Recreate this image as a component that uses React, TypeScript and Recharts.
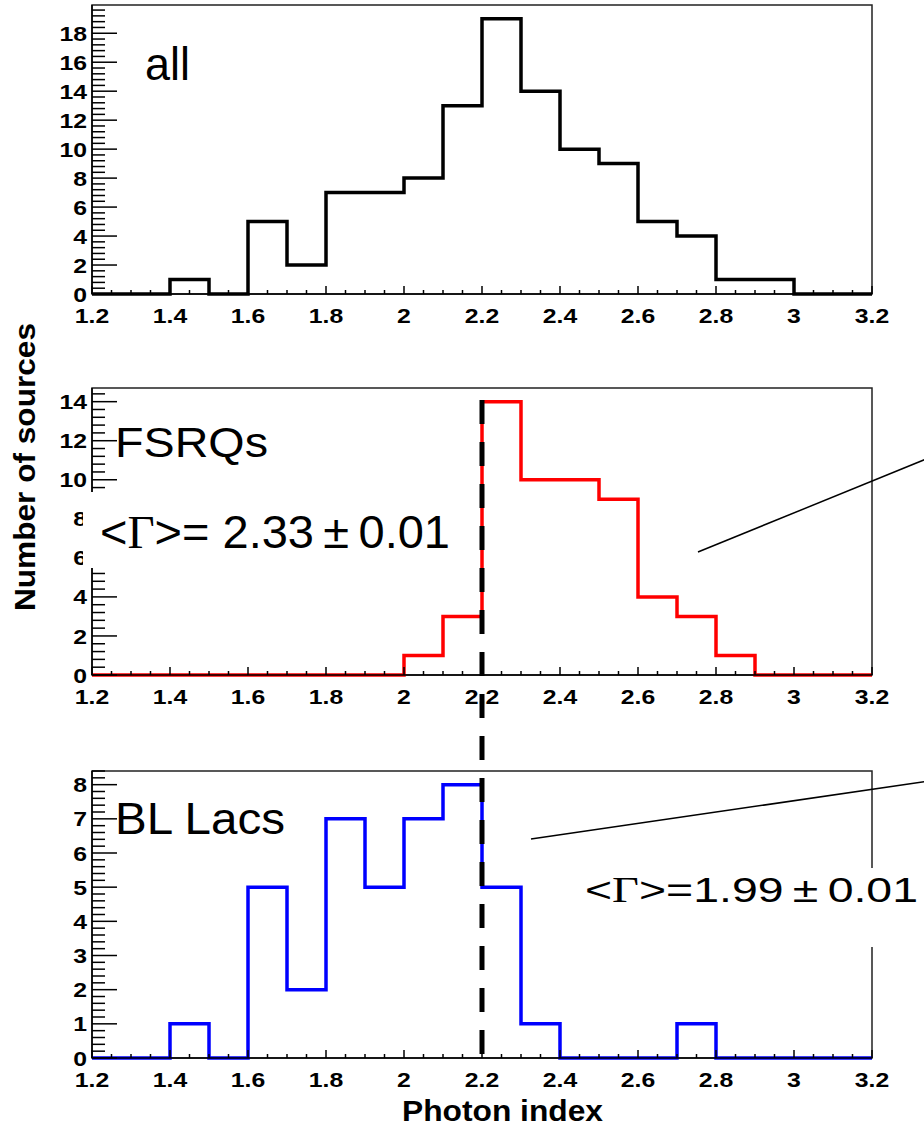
import React from 'react';
import { ComposedChart, Line, XAxis, YAxis, ReferenceLine, ReferenceArea } from 'recharts';

// lower bin edges (photon index), bin width 0.1
const binLow = [1.2, 1.3, 1.4, 1.5, 1.6, 1.7, 1.8, 1.9, 2.0, 2.1, 2.2, 2.3, 2.4, 2.5, 2.6, 2.7, 2.8, 2.9, 3.0, 3.1];
const binHighEnd = 3.2;
const allCounts = [0, 0, 1, 0, 5, 2, 7, 7, 8, 13, 19, 14, 10, 9, 5, 4, 1, 1, 0, 0];
const fsrqCounts = [0, 0, 0, 0, 0, 0, 0, 0, 1, 3, 14, 10, 10, 9, 4, 3, 1, 0, 0, 0];
const bllacCounts = [0, 0, 1, 0, 5, 2, 7, 5, 7, 8, 5, 1, 0, 0, 0, 1, 0, 0, 0, 0];

const xMajorLabels = [1.2, 1.4, 1.6, 1.8, 2, 2.2, 2.4, 2.6, 2.8, 3, 3.2];
const allYMajor = [0, 2, 4, 6, 8, 10, 12, 14, 16, 18];
const fsrqYMajor = [0, 2, 4, 6, 8, 10, 12, 14];
const bllacYMajor = [0, 1, 2, 3, 4, 5, 6, 7, 8];

const meanFsrq = 2.2; // dashed marker position
const FONT = 'Liberation Sans, Arial, sans-serif';

const buildData = (counts: number[]) => {
  const d = binLow.map((x, i) => ({ x, v: counts[i] }));
  d.push({ x: binHighEnd, v: counts[counts.length - 1] });
  return d;
};

const subdivide = (majors: number[], n: number, max: number) => {
  const step = (majors[1] - majors[0]) / n;
  const out: number[] = [];
  for (let k = 0; ; k++) {
    const v = +(majors[0] + k * step).toFixed(4);
    if (v > max + 1e-9) break;
    out.push(v);
  }
  return out;
};

const xTicks = subdivide(xMajorLabels, 4, 3.2);

const isIn = (v: number, arr: number[]) => arr.some((a) => Math.abs(a - v) < 1e-6);

const makeXTick = () => (props: any) => {
  const { x, y, payload } = props;
  const v = payload.value;
  const major = isIn(v, xMajorLabels);
  return (
    <g>
      <line x1={x} x2={x} y1={y} y2={y - (major ? 8 : 4)} stroke="#000" strokeWidth={1.5} />
      {major && (
        <text
          transform={`translate(${x},${y + 29}) scale(1.18,1)`}
          textAnchor="middle"
          fontFamily={FONT}
          fontWeight="bold"
          fontSize={21}
          fill="#000"
        >
          {String(+v.toFixed(2))}
        </text>
      )}
    </g>
  );
};

const makeYTick = (majors: number[]) => (props: any) => {
  const { x, y, payload } = props;
  const v = payload.value;
  const major = isIn(v, majors);
  return (
    <g>
      <line x1={x} x2={x + (major ? 25 : 13)} y1={y} y2={y} stroke="#000" strokeWidth={1.5} />
      {major && (
        <text
          transform={`translate(${x - 5},${y}) scale(1.18,1)`}
          dy="0.36em"
          textAnchor="end"
          fontFamily={FONT}
          fontWeight="bold"
          fontSize={21}
          fill="#000"
        >
          {String(v)}
        </text>
      )}
    </g>
  );
};

type PanelProps = {
  counts: number[];
  color: string;
  yMax: number;
  yMajor: number[];
  ySub: number;
  top: number;
  marginTop: number;
  height: number;
  children?: React.ReactNode;
};

const Panel = ({ counts, color, yMax, yMajor, ySub, top, marginTop, height, children }: PanelProps) => {
  const data = buildData(counts);
  const yTicks = subdivide(yMajor, ySub, yMax);
  return (
    <div style={{ position: 'absolute', left: 0, top, width: 924, height }}>
      <ComposedChart width={924} height={height} data={data} margin={{ top: marginTop, right: 52, bottom: 0, left: 32 }}>
        <XAxis
          dataKey="x"
          type="number"
          domain={[1.2, 3.2]}
          ticks={xTicks}
          interval={0}
          tickSize={0}
          tickMargin={0}
          tickLine={false}
          axisLine={{ stroke: '#000', strokeWidth: 1.5 }}
          tick={makeXTick()}
          height={36}
        />
        <YAxis
          type="number"
          domain={[0, yMax]}
          ticks={yTicks}
          interval={0}
          tickSize={0}
          tickMargin={0}
          tickLine={false}
          axisLine={{ stroke: '#000', strokeWidth: 1.5 }}
          tick={makeYTick(yMajor)}
          width={60}
        />
        <ReferenceArea x1={1.2} x2={3.2} y1={0} y2={yMax} fill="none" fillOpacity={0} stroke="#222" strokeWidth={1.5} ifOverflow="visible" />
        <Line
          type="stepAfter"
          dataKey="v"
          stroke={color}
          strokeWidth={3.5}
          strokeLinejoin="miter"
          dot={false}
          activeDot={false}
          isAnimationActive={false}
        />
        {children}
      </ComposedChart>
    </div>
  );
};

export default function App() {
  return (
    <div style={{ position: 'absolute', left: 0, top: 0, width: 924, height: 1128, background: '#fff', overflow: 'hidden' }}>
      <Panel counts={allCounts} color="#000" yMax={19.95} yMajor={allYMajor} ySub={5} top={0} marginTop={5} height={330} />
      <Panel counts={fsrqCounts} color="#ff0000" yMax={14.7} yMajor={fsrqYMajor} ySub={5} top={350} marginTop={38} height={361}>
        <ReferenceLine
          segment={[{ x: 2.7538, y: 6.3 }, { x: 3.4333, y: 11.83 }]}
          stroke="#000"
          strokeWidth={1.5}
          ifOverflow="visible"
        />
      </Panel>
      <Panel counts={bllacCounts} color="#0000ff" yMax={8.4} yMajor={bllacYMajor} ySub={5} top={380} marginTop={391} height={714}>
        <ReferenceLine
          segment={[{ x: meanFsrq, y: 19.26 }, { x: meanFsrq, y: 0 }]}
          stroke="#000"
          strokeWidth={5}
          strokeDasharray="24 18"
          ifOverflow="visible"
        />
        <ReferenceLine
          segment={[{ x: 2.3256, y: 6.41 }, { x: 3.4333, y: 8.25 }]}
          stroke="#000"
          strokeWidth={1.5}
          ifOverflow="visible"
        />
      </Panel>
      <svg width={924} height={1128} style={{ position: 'absolute', left: 0, top: 0, pointerEvents: 'none' }}>
        <text x={145} y={80} fontFamily={FONT} fontSize={46} textLength={45} lengthAdjust="spacingAndGlyphs" fill="#000">all</text>
        <text x={115} y={457} fontFamily={FONT} fontSize={42} textLength={153} lengthAdjust="spacingAndGlyphs" fill="#000">FSRQs</text>
        <rect x={83} y={492} width={392} height={76} fill="#fff" />
        <text x={100} y={548} fontFamily={FONT} fontSize={46} textLength={350} lengthAdjust="spacingAndGlyphs" fill="#000">
          {'<'}<tspan fontFamily="Liberation Serif, Times New Roman, serif">Γ</tspan>{'>= 2.33\u2009±\u20090.01'}
        </text>
        <text x={115} y={834} fontFamily={FONT} fontSize={45} textLength={170} lengthAdjust="spacingAndGlyphs" fill="#000">BL Lacs</text>
        <rect x={575} y={868} width={349} height={79} fill="#fff" />
        <text x={585} y={902} fontFamily={FONT} fontSize={35} textLength={333} lengthAdjust="spacingAndGlyphs" fill="#000">
          {'<'}<tspan fontFamily="Liberation Serif, Times New Roman, serif">Γ</tspan>{'>=1.99\u2009±\u20090.01'}
        </text>
        <text x={402} y={1121} fontFamily={FONT} fontWeight="bold" fontSize={29} textLength={201} lengthAdjust="spacingAndGlyphs" fill="#000">Photon index</text>
        <text transform="translate(35,467) rotate(-90)" textAnchor="middle" fontFamily={FONT} fontWeight="bold" fontSize={29} textLength={288} lengthAdjust="spacingAndGlyphs" fill="#000">Number of sources</text>
      </svg>
    </div>
  );
}
